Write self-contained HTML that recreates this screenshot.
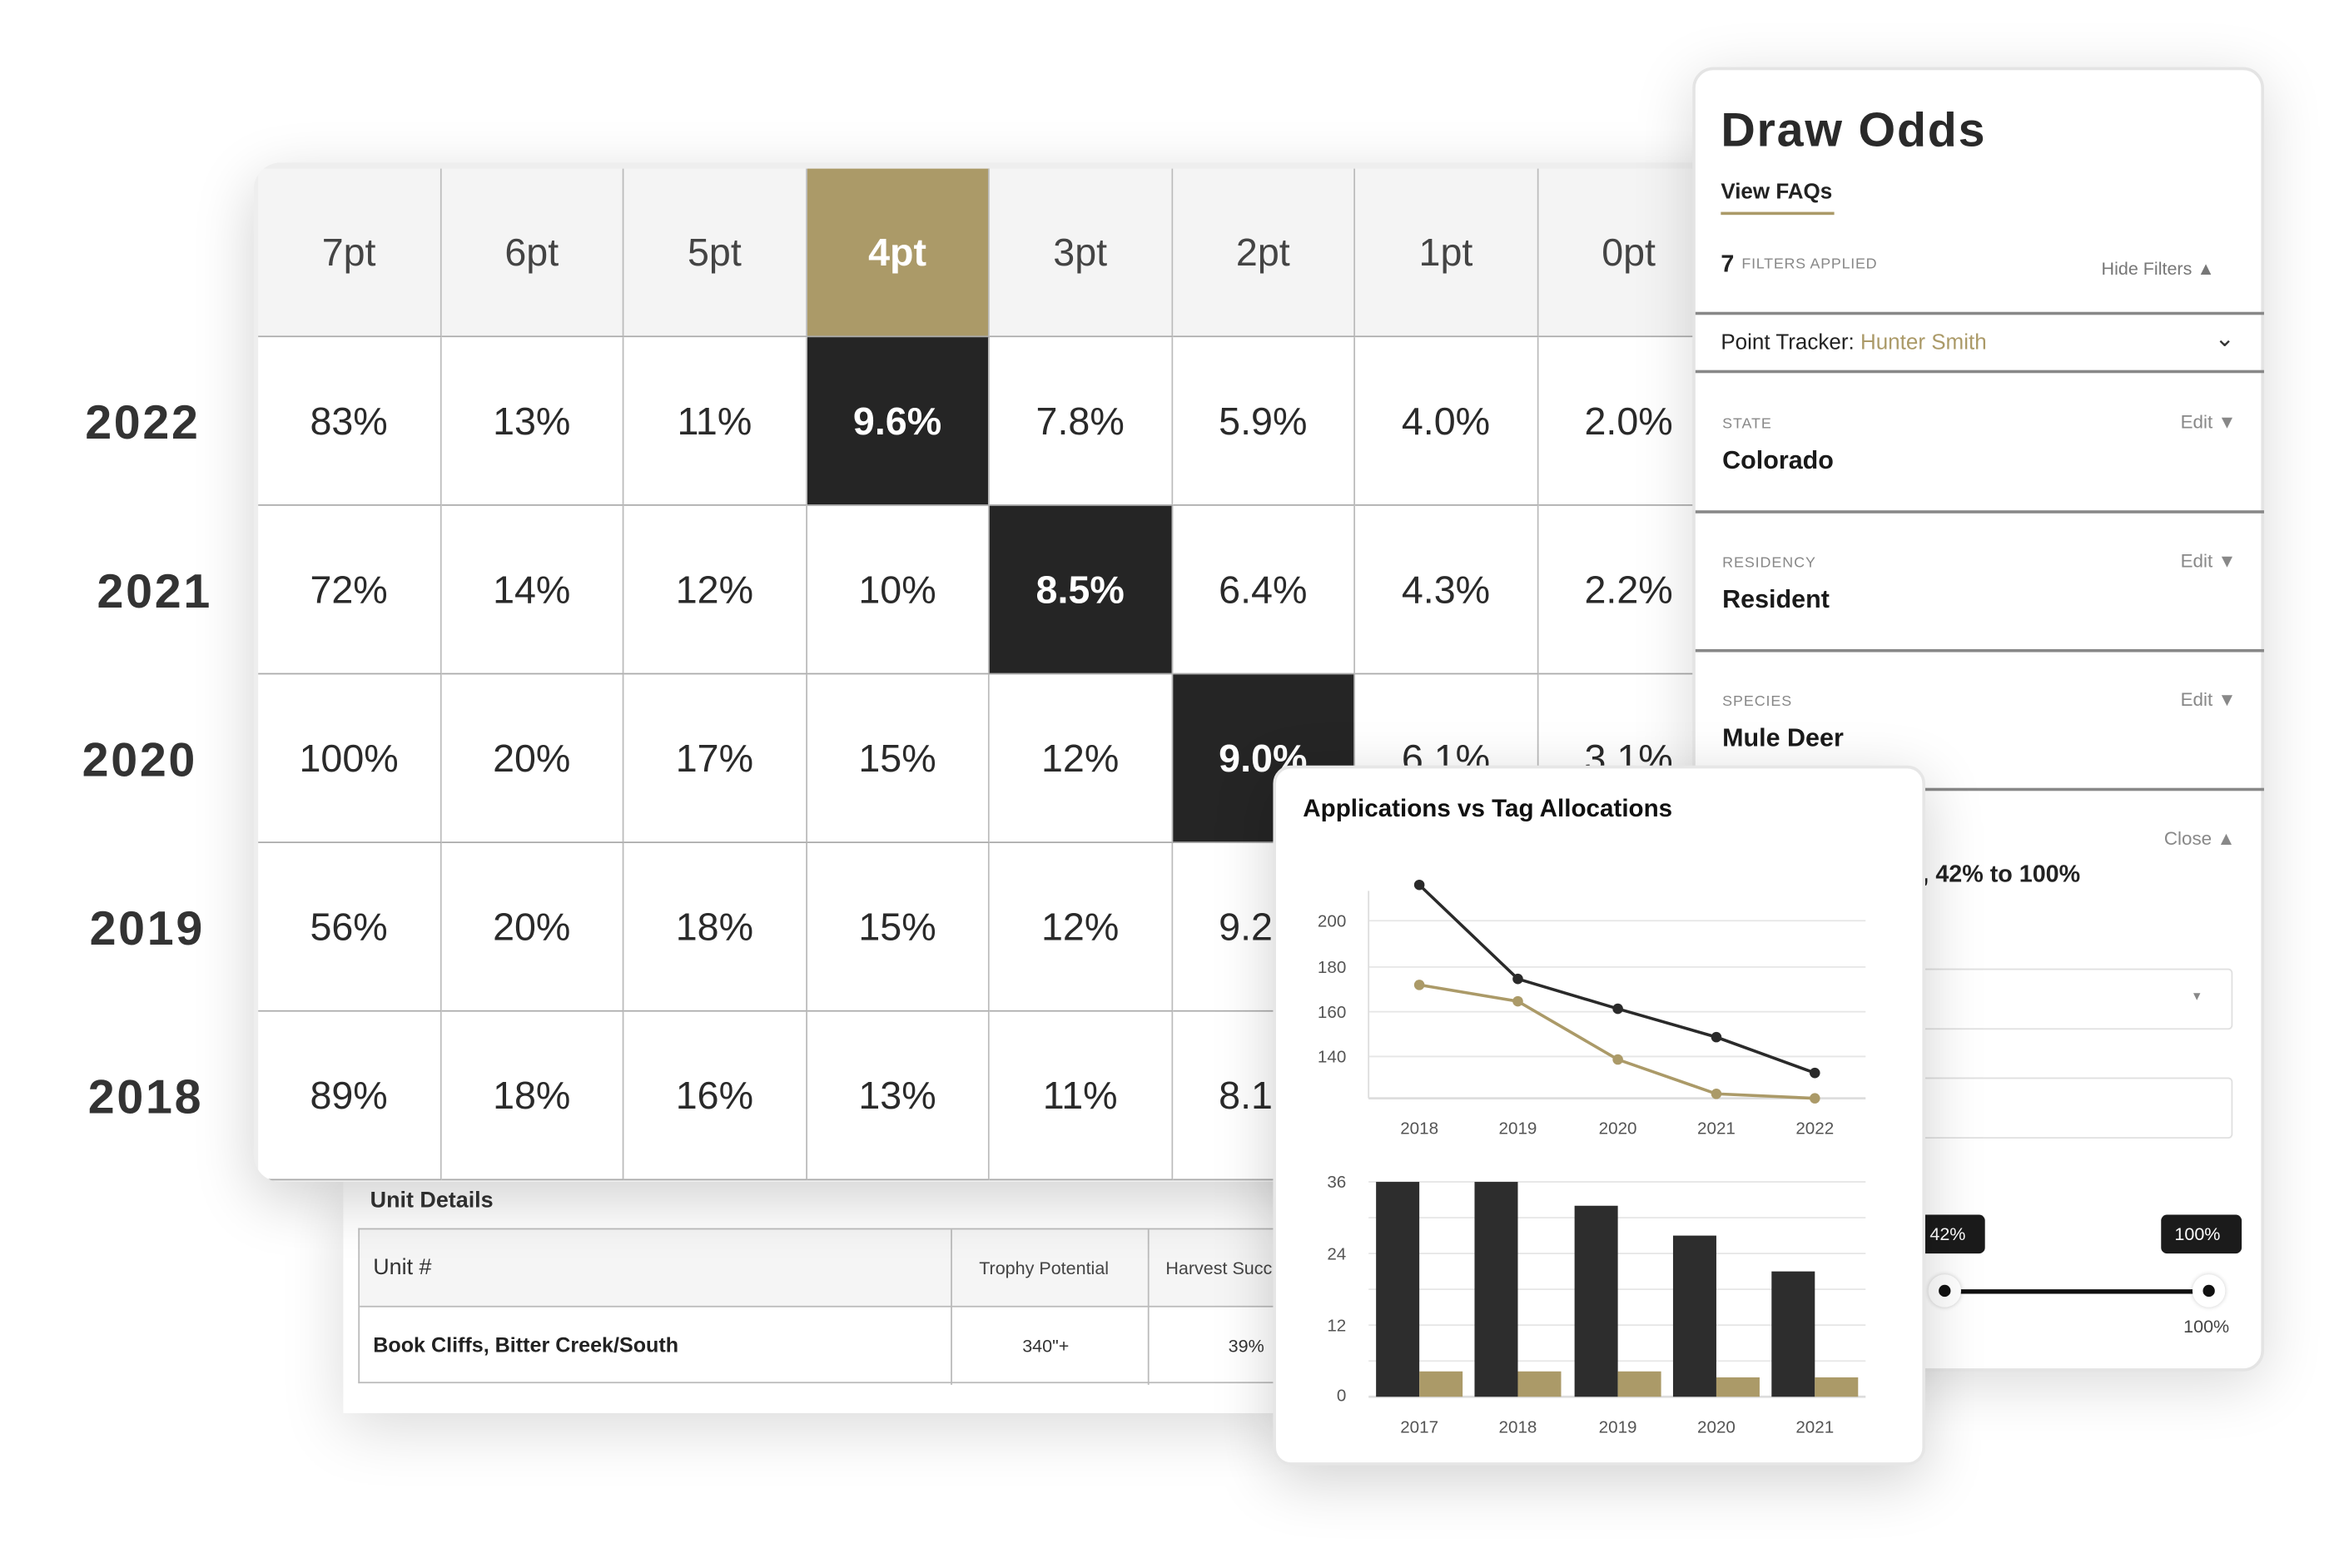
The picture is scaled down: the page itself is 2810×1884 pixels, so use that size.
<!DOCTYPE html>
<html><head><meta charset="utf-8"><style>
*{margin:0;padding:0;box-sizing:border-box}
html,body{width:2810px;height:1884px;overflow:hidden;background:#fff}
#s{position:absolute;left:0;top:0;width:1568px;height:1051px;transform:scale(1.793);transform-origin:0 0;font-family:"Liberation Sans",sans-serif;color:#222}
.abs{position:absolute}
.grid{left:170px;top:109px;width:1000px;height:683px;background:#eee;border-radius:18px;box-shadow:0 12px 40px rgba(0,0,0,.18);overflow:hidden}
.c{position:absolute;width:122.5px;height:113px;display:flex;align-items:center;justify-content:center;font-size:26px;color:#2a2a2a;border-right:1px solid #bbb;border-bottom:1.5px solid #aaa;background:#fff}
.h{background:#f4f4f4;color:#444}
.g{background:#ab9a68;color:#fff;font-weight:bold}
.d{background:#252525;color:#fff;font-weight:bold}
.yr{position:absolute;font-size:32px;font-weight:bold;color:#333;letter-spacing:1.5px}
.side{left:1134px;top:45px;width:383px;height:874px;background:#fff;border-radius:14px;border:2px solid #e4e4e4;box-shadow:0 8px 40px rgba(0,0,0,.15)}
.ln{position:absolute;left:0;width:381px;height:1.5px;background:#888}
.lab{position:absolute;font-size:10px;color:#888;letter-spacing:.5px}
.val{position:absolute;font-size:17px;font-weight:bold;color:#1a1a1a}
.edit{position:absolute;font-size:12.5px;color:#888}
.card{left:853px;top:513px;width:437px;height:469px;background:#fff;border-radius:12px;border:2px solid #e6e6e6;box-shadow:0 10px 40px rgba(0,0,0,.18)}
</style></head><body><div id="s">

<div class="abs" style="left:230px;top:785px;width:640px;height:162px;background:#fff;box-shadow:0 10px 40px rgba(0,0,0,.15)">
 <div class="abs" style="left:18px;top:11px;font-size:15px;font-weight:bold;color:#333">Unit Details</div>
 <div class="abs" style="left:10px;top:38px;width:630px;height:104px;border:1px solid #bbb;border-right:none">
  <div class="abs" style="left:0;top:0;width:630px;height:52px;background:#f5f5f5;border-bottom:1px solid #bbb"></div>
  <div class="abs" style="left:396px;top:0;width:1px;height:104px;background:#bbb"></div>
  <div class="abs" style="left:528px;top:0;width:1px;height:104px;background:#bbb"></div>
  <div class="abs" style="left:9px;top:17px;font-size:15px;color:#333">Unit #</div>
  <div class="abs" style="left:415px;top:19px;font-size:12px;color:#444">Trophy Potential</div>
  <div class="abs" style="left:540px;top:19px;font-size:12px;color:#444">Harvest Succ</div>
  <div class="abs" style="left:9px;top:69px;font-size:14px;font-weight:bold;color:#222">Book Cliffs, Bitter Creek/South</div>
  <div class="abs" style="left:444px;top:71px;font-size:12px;color:#333">340"+</div>
  <div class="abs" style="left:582px;top:71px;font-size:12px;color:#333">39%</div>
 </div>
</div>

<div class="abs grid" id="g"></div>
<div class="yr" style="left:57px;top:265px">2022</div>
<div class="yr" style="left:65px;top:378px">2021</div>
<div class="yr" style="left:55px;top:491px">2020</div>
<div class="yr" style="left:60px;top:604px">2019</div>
<div class="yr" style="left:59px;top:717px">2018</div>

<div class="abs side">
 <div class="abs" style="left:17px;top:22px;font-size:32px;font-weight:bold;color:#2a2a2a;letter-spacing:1px">Draw Odds</div>
 <div class="abs" style="left:17px;top:74px;font-size:14.5px;font-weight:bold;color:#222">View FAQs</div>
 <div class="abs" style="left:17px;top:95px;width:76px;height:2px;background:#ab9a68"></div>
 <div class="abs" style="left:17px;top:122px;font-size:16px;font-weight:bold">7</div>
 <div class="abs" style="left:31px;top:125px;font-size:10px;color:#888;letter-spacing:.4px">FILTERS APPLIED</div>
 <div class="abs" style="left:272px;top:126px;font-size:12px;color:#777">Hide Filters &#9650;</div>
 <div class="ln" style="top:162px"></div>
 <div class="abs" style="left:17px;top:175px;font-size:14.5px;color:#222">Point Tracker: <span style="color:#ab9a68">Hunter Smith</span></div>
 <div class="abs" style="left:348px;top:170px;font-size:16px;color:#333">&#8964;</div>
 <div class="ln" style="top:201px"></div>
 <div class="lab" style="left:18px;top:232px">STATE</div><div class="val" style="left:18px;top:252px">Colorado</div><div class="edit" style="left:325px;top:229px">Edit &#9660;</div>
 <div class="ln" style="top:295px"></div>
 <div class="lab" style="left:18px;top:325px">RESIDENCY</div><div class="val" style="left:18px;top:345px">Resident</div><div class="edit" style="left:325px;top:322px">Edit &#9660;</div>
 <div class="ln" style="top:388px"></div>
 <div class="lab" style="left:18px;top:418px">SPECIES</div><div class="val" style="left:18px;top:438px">Mule Deer</div><div class="edit" style="left:325px;top:415px">Edit &#9660;</div>
 <div class="ln" style="top:481px"></div>
 <div class="edit" style="left:314px;top:508px">Close &#9650;</div>
 <div class="abs" style="left:152px;top:531px;font-size:16px;font-weight:bold;color:#222">, 42% to 100%</div>
 <div class="abs" style="left:150px;top:602px;width:210px;height:41px;border:1px solid #e0e0e0;border-radius:3px"><div class="abs" style="left:181px;top:13px;font-size:8px;color:#888">&#9660;</div></div>
 <div class="abs" style="left:150px;top:675px;width:210px;height:41px;border:1px solid #e0e0e0;border-radius:3px"></div>
 <div class="abs" style="left:150px;top:767px;width:44px;height:26px;background:#1b1b1b;border-radius:4px;color:#fff;font-size:12px;padding:6px 0 0 7px">42%</div>
 <div class="abs" style="left:312px;top:767px;width:54px;height:26px;background:#1b1b1b;border-radius:4px;color:#fff;font-size:12px;padding:6px 0 0 9px">100%</div>
 <div class="abs" style="left:167px;top:817px;width:177px;height:3px;background:#111"></div>
 <div class="abs" style="left:156px;top:807px;width:22px;height:22px;border-radius:50%;background:#fff;box-shadow:0 0 3px rgba(0,0,0,.2)"><div class="abs" style="left:7px;top:7px;width:8px;height:8px;border-radius:50%;background:#111"></div></div>
 <div class="abs" style="left:333px;top:807px;width:22px;height:22px;border-radius:50%;background:#fff;box-shadow:0 0 3px rgba(0,0,0,.2)"><div class="abs" style="left:7px;top:7px;width:8px;height:8px;border-radius:50%;background:#111"></div></div>
 <div class="abs" style="left:327px;top:835px;font-size:12px;color:#444">100%</div>
</div>

<div class="abs card">
 <div class="abs" style="left:18px;top:18px;font-size:16.5px;font-weight:bold;color:#111">Applications vs Tag Allocations</div>
</div>
<svg class="abs" style="left:0;top:0" width="1568" height="1051" font-family="Liberation Sans" font-size="11.5" fill="#555">
 <g stroke="#e6e6e6" stroke-width="1">
  <line x1="917" y1="617" x2="1250" y2="617"/><line x1="917" y1="648" x2="1250" y2="648"/><line x1="917" y1="678" x2="1250" y2="678"/><line x1="917" y1="708" x2="1250" y2="708"/>
  <line x1="917" y1="888" x2="1250" y2="888"/><line x1="917" y1="864" x2="1250" y2="864"/><line x1="917" y1="840" x2="1250" y2="840"/><line x1="917" y1="816" x2="1250" y2="816"/><line x1="917" y1="792" x2="1250" y2="792"/><line x1="917" y1="912" x2="1250" y2="912"/>
 </g>
 <line x1="917" y1="597" x2="917" y2="736" stroke="#ddd"/>
 <line x1="917" y1="736" x2="1250" y2="736" stroke="#ddd" stroke-width="1.5"/>
 <line x1="917" y1="936" x2="1250" y2="936" stroke="#ddd" stroke-width="1.5"/>
 <g text-anchor="end"><text x="902" y="621">200</text><text x="902" y="652">180</text><text x="902" y="682">160</text><text x="902" y="712">140</text>
 <text x="902" y="796">36</text><text x="902" y="844">24</text><text x="902" y="892">12</text><text x="902" y="939">0</text></g>
 <g text-anchor="middle"><text x="951" y="760">2018</text><text x="1017" y="760">2019</text><text x="1084" y="760">2020</text><text x="1150" y="760">2021</text><text x="1216" y="760">2022</text>
 <text x="951" y="960">2017</text><text x="1017" y="960">2018</text><text x="1084" y="960">2019</text><text x="1150" y="960">2020</text><text x="1216" y="960">2021</text></g>
 <polyline points="951,660 1017,671 1084,710 1150,733 1216,736" fill="none" stroke="#ab9a68" stroke-width="2"/>
 <polyline points="951,593 1017,656 1084,676 1150,695 1216,719" fill="none" stroke="#2a2a2a" stroke-width="2"/>
 <g fill="#ab9a68"><circle cx="951" cy="660" r="3.5"/><circle cx="1017" cy="671" r="3.5"/><circle cx="1084" cy="710" r="3.5"/><circle cx="1150" cy="733" r="3.5"/><circle cx="1216" cy="736" r="3.5"/></g>
 <g fill="#2a2a2a"><circle cx="951" cy="593" r="3.5"/><circle cx="1017" cy="656" r="3.5"/><circle cx="1084" cy="676" r="3.5"/><circle cx="1150" cy="695" r="3.5"/><circle cx="1216" cy="719" r="3.5"/></g>
 <g fill="#2d2d2d"><rect x="922" y="792" width="29" height="144"/><rect x="988" y="792" width="29" height="144"/><rect x="1055" y="808" width="29" height="128"/><rect x="1121" y="828" width="29" height="108"/><rect x="1187" y="852" width="29" height="84"/></g>
 <g fill="#ab9a68"><rect x="951" y="919" width="29" height="17"/><rect x="1017" y="919" width="29" height="17"/><rect x="1084" y="919" width="29" height="17"/><rect x="1150" y="923" width="29" height="13"/><rect x="1216" y="923" width="29" height="13"/></g>
</svg>
</div>
<script>
var g=document.getElementById('g');
var hd=['7pt','6pt','5pt','4pt','3pt','2pt','1pt','0pt'];
var rows=[['83%','13%','11%','9.6%','7.8%','5.9%','4.0%','2.0%'],['72%','14%','12%','10%','8.5%','6.4%','4.3%','2.2%'],['100%','20%','17%','15%','12%','9.0%','6.1%','3.1%'],['56%','20%','18%','15%','12%','9.2%','6.0%','3.0%'],['89%','18%','16%','13%','11%','8.1%','5.5%','2.8%']];
var h='';
for(var i=0;i<8;i++){h+='<div class="c h'+(i==3?' g':'')+'" style="left:'+(3+i*122.5)+'px;top:4px">'+hd[i]+'</div>';}
for(var r=0;r<5;r++)for(var i=0;i<8;i++){var d=(i==3+r&&r<3)?' d':'';h+='<div class="c'+d+'" style="left:'+(3+i*122.5)+'px;top:'+(117+r*113)+'px">'+rows[r][i]+'</div>';}
g.innerHTML=h;
</script>
</body></html>
